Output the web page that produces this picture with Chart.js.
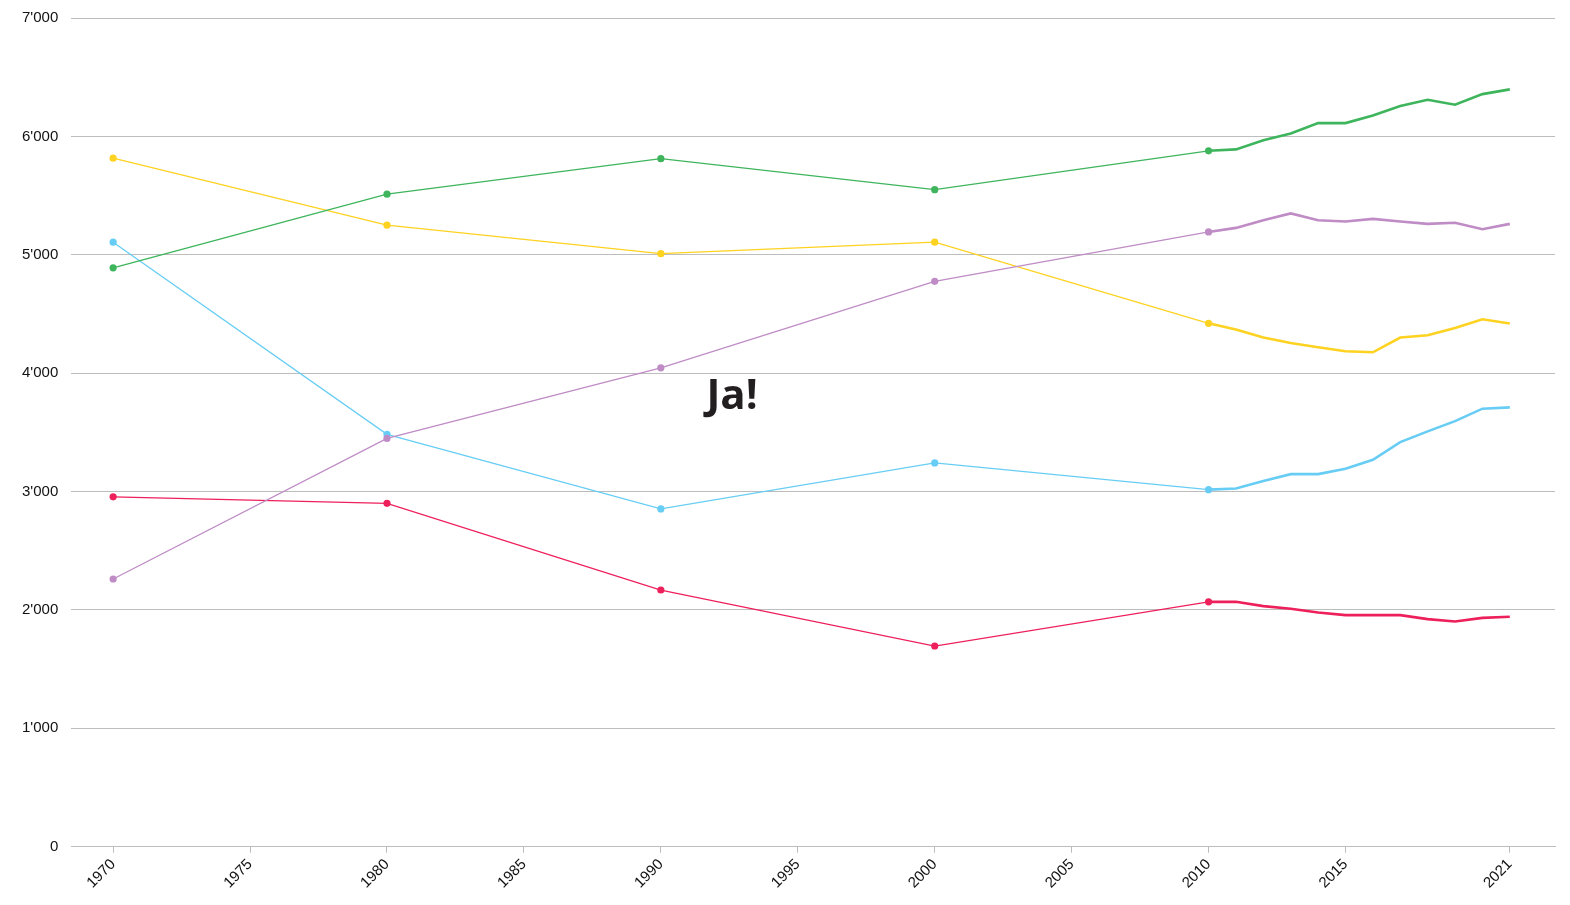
<!DOCTYPE html>
<html>
<head>
<meta charset="utf-8">
<script src="https://cdn.jsdelivr.net/npm/chart.js@4"></script>
<style>
    html, body { margin: 0; padding: 0; background: #fff; }
    #wrap { width: 1570px; height: 905px; position: relative; }
</style>
</head>
<body>
<div id="wrap"><canvas id="lineChart"></canvas></div>
<script>
// jahre: dekaden bis 2010, danach jährlich
const years = [1970, 1980, 1990, 2000, 2010, 2011, 2012, 2013, 2014, 2015, 2016, 2017, 2018, 2019, 2020, 2021];
const markerYears = [1970, 1980, 1990, 2000, 2010];
const xTicks = [1970, 1975, 1980, 1985, 1990, 1995, 2000, 2005, 2010, 2015, 2021];

const greenValues  = [4890, 5512, 5812, 5550, 5878, 5890, 5968, 6025, 6112, 6112, 6177, 6256, 6309, 6268, 6357, 6397];
const purpleValues = [2261, 3449, 4045, 4776, 5193, 5227, 5292, 5349, 5292, 5281, 5303, 5281, 5261, 5270, 5216, 5261];
const yellowValues = [5816, 5250, 5009, 5106, 4421, 4368, 4301, 4255, 4218, 4185, 4176, 4301, 4320, 4382, 4455, 4419];
const blueValues   = [5106, 3483, 2853, 3242, 3016, 3026, 3088, 3147, 3147, 3192, 3268, 3417, 3508, 3595, 3700, 3711];
const redValues    = [2955, 2900, 2168, 1695, 2068, 2069, 2032, 2010, 1978, 1956, 1956, 1956, 1922, 1902, 1933, 1942];

const seriesConfig = [
    { values: greenValues,  color: 'rgb(62, 181, 92)' },
    { values: purpleValues, color: 'rgb(191, 140, 198)' },
    { values: yellowValues, color: 'rgb(254, 210, 32)' },
    { values: blueValues,   color: 'rgb(104, 205, 244)' },
    { values: redValues,    color: 'rgb(238, 32, 92)' }
];

const annotationText = 'Ja!';
const annotationPos = { x: 1992.6, y: 3800 };

const datasets = seriesConfig.map(cfg => ({
    data: years.map((yr, i) => ({ x: yr, y: cfg.values[i] })),
    borderColor: cfg.color,
    backgroundColor: cfg.color,
    pointBackgroundColor: cfg.color,
    pointBorderWidth: 0,
    pointRadius: ctx => markerYears.includes(years[ctx.dataIndex]) ? 3.6 : 0,
    pointHoverRadius: 0,
    borderWidth: 1.3,
    segment: {
        borderWidth: ctx => ctx.p0.parsed.x >= 2010 ? 2.6 : 1.3
    },
    tension: 0,
    fill: false
}));

function formatThousands(v) {
    return String(v).replace(/\B(?=(\d{3})+(?!\d))/g, "'");
}

const textPlugin = {
    id: 'jaText',
    afterDatasetsDraw(chart) {
        const ctx = chart.ctx;
        const px = chart.scales.x.getPixelForValue(annotationPos.x);
        const py = chart.scales.y.getPixelForValue(annotationPos.y);
        ctx.save();
        ctx.font = 'bold 42px "Open Sans", sans-serif';
        ctx.fillStyle = '#231f20';
        ctx.textAlign = 'center';
        ctx.textBaseline = 'middle';
        ctx.fillText(annotationText, px, py);
        ctx.restore();
    }
};

new Chart(document.getElementById('lineChart'), {
    type: 'line',
    data: { datasets: datasets },
    plugins: [textPlugin],
    options: {
        responsive: true,
        maintainAspectRatio: false,
        animation: false,
        layout: { autoPadding: false, padding: { top: 18, right: 15, bottom: 10, left: 9 } },
        plugins: {
            legend: { display: false },
            tooltip: { enabled: false }
        },
        scales: {
            x: {
                type: 'linear',
                min: 1968.47,
                max: 2022.65,
                afterBuildTicks: scale => {
                    scale.ticks = xTicks.map(v => ({ value: v }));
                },
                ticks: {
                    autoSkip: false,
                    minRotation: 45,
                    maxRotation: 45,
                    color: '#111',
                    font: { family: '"Liberation Sans", Arial, sans-serif', size: 15 },
                    callback: v => String(v)
                },
                grid: {
                    drawOnChartArea: false,
                    drawTicks: true,
                    tickLength: 6,
                    color: '#bdbdbd'
                },
                border: { display: true, color: '#bdbdbd' }
            },
            y: {
                min: 0,
                max: 7000,
                afterFit: scale => {
                    scale.paddingTop = 0;
                },
                ticks: {
                    stepSize: 1000,
                    padding: 13,
                    color: '#111',
                    font: { family: '"Liberation Sans", Arial, sans-serif', size: 15 },
                    callback: v => formatThousands(v)
                },
                grid: {
                    color: '#bdbdbd',
                    drawTicks: false
                },
                border: { display: false }
            }
        }
    }
});
</script>
</body>
</html>
